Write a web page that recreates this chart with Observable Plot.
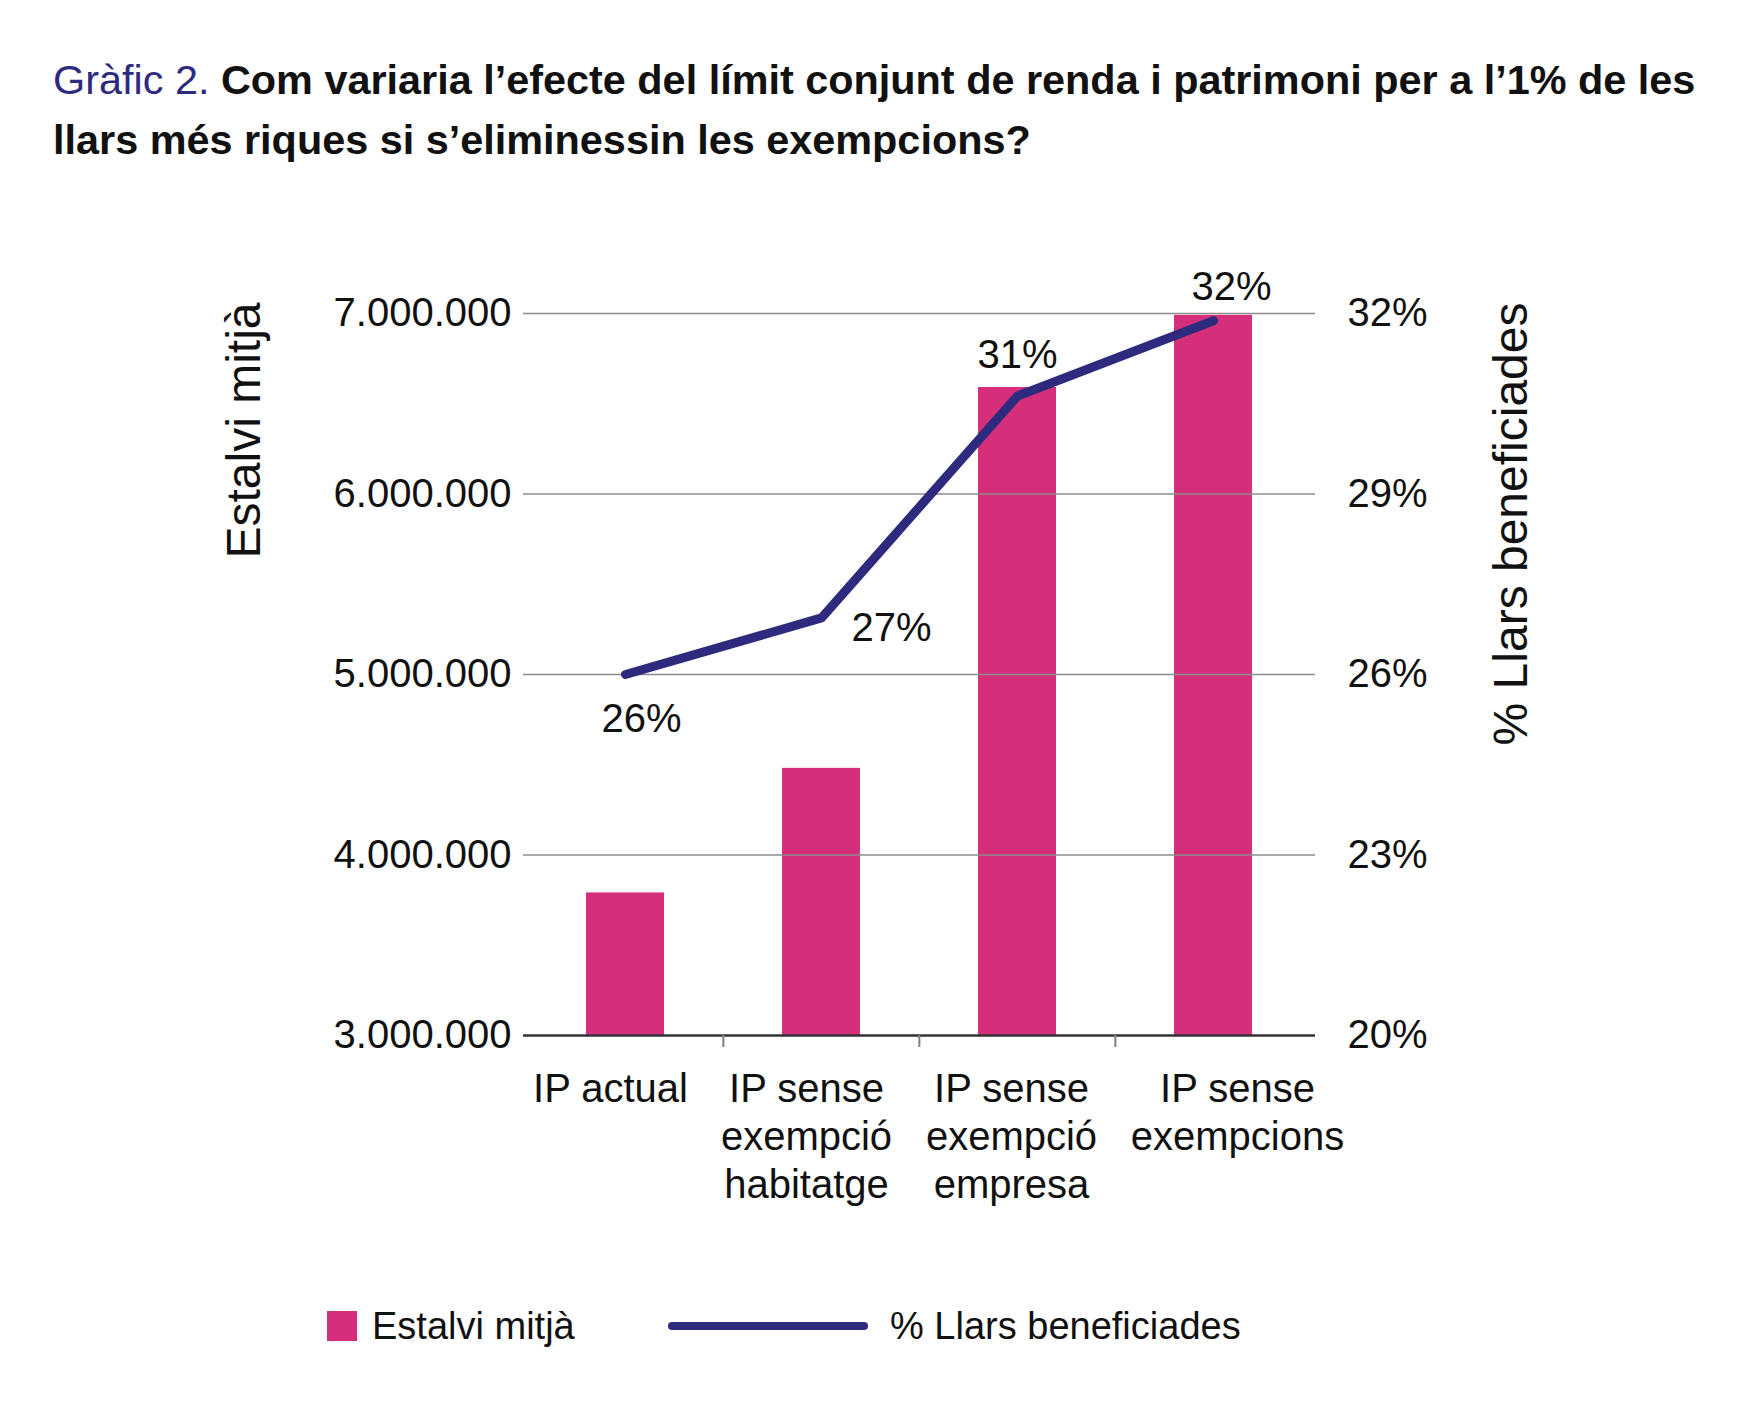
<!DOCTYPE html>
<html>
<head>
<meta charset="utf-8">
<script src="https://cdn.jsdelivr.net/npm/d3@7"></script>
<script src="https://cdn.jsdelivr.net/npm/@observablehq/plot@0.6"></script>
<style>
  html, body { margin: 0; padding: 0; background: #fff; }
  #page { position: relative; width: 1754px; height: 1414px; background: #fff; font-family: "Liberation Sans", Arial, Helvetica, sans-serif; color: #111; }
  #title { position: absolute; left: 53px; top: 50px; width: 1700px; font-size: 41.4px; line-height: 60px; font-weight: bold; color: #111; white-space: nowrap; }
  #title .lead { color: #2e2a7e; font-weight: normal; }
  #chart { position: absolute; left: 0; top: 200px; }
  .legend { position: absolute; top: 1311px; height: 30px; display: flex; align-items: center; font-size: 38px; line-height: 30px; }
  .swatch { width: 30px; height: 30px; background: #d52f7b; }
  .lineswatch { width: 200px; height: 8px; border-radius: 4px; background: #2e2a7e; }
</style>
</head>
<body>
<div id="page">
  <div id="title"><span class="lead">Gràfic 2.</span> Com variaria l’efecte del límit conjunt de renda i patrimoni per a l’1% de les<br>llars més riques si s’eliminessin les exempcions?</div>
  <div id="chart"></div>
  <div class="legend" style="left:327px;"><div class="swatch"></div><span style="margin-left:15px;">Estalvi mitjà</span></div>
  <div class="legend" style="left:668px;"><div class="lineswatch"></div><span style="margin-left:22px;">% Llars beneficiades</span></div>
</div>
<script>
// ---- data ----
const categories = ["IP actual", "IP sense exempció habitatge", "IP sense exempció empresa", "IP sense exempcions"];
const tickLabels = ["IP actual", "IP sense\nexempció\nhabitatge", "IP sense\nexempció\nempresa", "IP sense\nexempcions"];
const estalviMitja = [3790000, 4480000, 6590000, 6990000];
const llarsBeneficiades = [26.0, 26.94, 30.63, 31.88];
const llarsLabels = ["26%", "27%", "31%", "32%"];
const yTicks = [3000000, 4000000, 5000000, 6000000, 7000000];
const pctTicks = [20, 23, 26, 29, 32];

// ---- layout ----
const W = 1754, H = 1050, mL = 523, mR = 439, mT = 113, mB = 215;
const padInner = 0.6, padOuter = 0.317;
const step = (W - mL - mR) / (categories.length - padInner + 2 * padOuter);

// secondary axis mapping: 20%..32% onto 3M..7M
const yMin = yTicks[0], yMax = yTicks[yTicks.length - 1];
const pMin = pctTicks[0], pMax = pctTicks[pctTicks.length - 1];
const pctToY = p => yMin + (p - pMin) / (pMax - pMin) * (yMax - yMin);
const yToPct = v => pMin + (v - yMin) / (yMax - yMin) * (pMax - pMin);

const data = categories.map((c, i) => ({cat: c, estalvi: estalviMitja[i], llars: llarsBeneficiades[i], label: llarsLabels[i]}));
const fmtY = v => d3.format(",")(v).replace(/,/g, ".");

// label nudges (pixels)
const valueLabelOffsets = [
  {dx: 16, dy: 45},
  {dx: 70, dy: 10},
  {dx: 0, dy: -41},
  {dx: 18, dy: -34}
];
const catLabelNudge = [-15, -15, -6, 24];

const chart = Plot.plot({
  width: W, height: H,
  marginLeft: mL, marginRight: mR, marginTop: mT, marginBottom: mB,
  style: {fontFamily: "'Liberation Sans', Arial, Helvetica, sans-serif", fontSize: "40px", color: "#111", background: "#fff", overflow: "visible"},
  x: {domain: categories, paddingInner: padInner, paddingOuter: padOuter, align: 0.5},
  y: {domain: [yMin, yMax]},
  marks: [
    Plot.barY(data, {x: "cat", y1: () => yMin, y2: "estalvi", fill: "#d52f7b"}),
    Plot.gridY(yTicks.slice(1), {stroke: "#8c8c8c", strokeOpacity: 1, strokeWidth: 1.5}),
    Plot.ruleY([yMin], {stroke: "#333", strokeWidth: 2.5}),
    Plot.axisY({ticks: yTicks, tickFormat: fmtY, anchor: "left", tickSize: 0, tickPadding: 12, label: null, fontSize: 40}),
    Plot.axisY({ticks: pctTicks.map(pctToY), tickFormat: v => Math.round(yToPct(v)) + "%", anchor: "right", tickSize: 0, tickPadding: 32, label: null, fontSize: 40}),
    ...categories.map((c, i) => Plot.axisX({ticks: [c], tickFormat: d => tickLabels[categories.indexOf(d)], tickSize: 0, tickPadding: 32, lineHeight: 1.2, label: null, fontSize: 40, dx: catLabelNudge[i]})),
    Plot.axisX({ticks: categories.slice(1), tickFormat: () => "", tickSize: 12, dx: -step / 2, stroke: "#808080", strokeWidth: 2, label: null}),
    Plot.line(data, {x: "cat", y: d => pctToY(d.llars), stroke: "#2e2a7e", strokeWidth: 9, strokeLinecap: "round", strokeLinejoin: "round"}),
    ...data.map((d, i) => Plot.text([d], {x: "cat", y: e => pctToY(e.llars), text: "label", dx: valueLabelOffsets[i].dx, dy: valueLabelOffsets[i].dy, fontSize: 40, fill: "#111"})),
    Plot.text(["Estalvi mitjà"], {frameAnchor: "top-left", rotate: -90, textAnchor: "end", dx: 225 - mL, dy: -11, fontSize: 48, fill: "#111"}),
    Plot.text(["% Llars beneficiades"], {frameAnchor: "top-right", rotate: -90, textAnchor: "end", dx: 177, dy: -11, fontSize: 48, fill: "#111"})
  ]
});
document.getElementById("chart").appendChild(chart);
</script>
</body>
</html>
